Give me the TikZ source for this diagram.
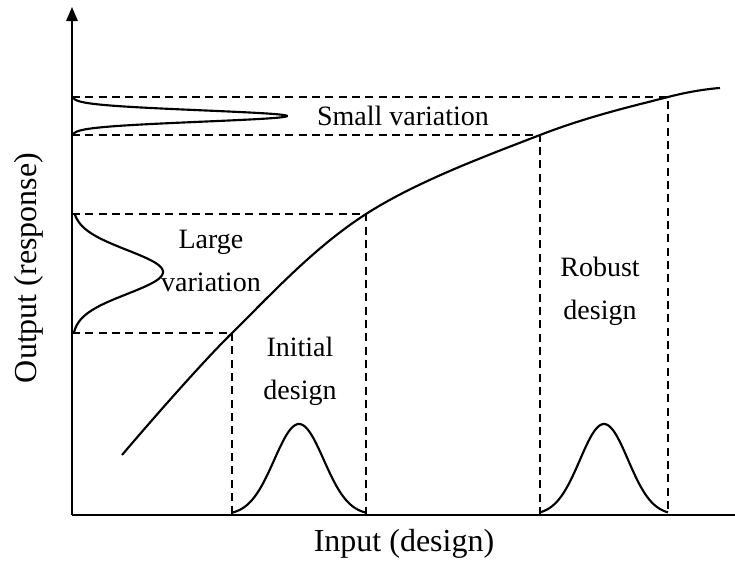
\documentclass[tikz,border=0pt]{standalone}
\usepackage{fontspec}
\setmainfont{Liberation Serif}
\usetikzlibrary{arrows.meta}
\begin{document}
\begin{tikzpicture}
[x=0.75pt,y=-0.75pt,
  axisdecorate/.style={-{Triangle[length=10.5pt,width=8.5pt]},line width=1.6pt},%
  curvedecorate/.style={-,line width=1.6pt},%
  dashdecorate/.style={line width=1.1pt,dash pattern=on 6pt off 4pt},%
  labeldecorate/.style={align=center,inner sep=0pt,font=\fontsize{21}{32}\selectfont},%
  axislabeldecorate/.style={inner sep=0pt,font=\fontsize{24}{28}\selectfont}]
\useasboundingbox (0,0) rectangle (735,562);
%% axes
\coordinate (o) at (72,515);
\coordinate (ytop) at (72,7);
\coordinate (xend) at (749,515);
\draw[axisdecorate] (o) -- (ytop);
\draw[axisdecorate] (o) -- (xend);
%% points on the curve
\foreach \nodename/\x/\y in {c1/232/333, c2/366/214, c3/540/135, c4/668/97} {
  \coordinate (\nodename) at (\x,\y);
}
%% curve
\coordinate (cstart) at (122,455);
\coordinate (cend) at (720,88);
\draw[curvedecorate] plot[smooth,tension=0.6] coordinates {(cstart) (c1) (c2) (c3) (c4) (cend)};
%% dashed projections
\foreach \nodename in {c1, c2, c3, c4} {
  \draw[dashdecorate] (\nodename -| o) -- (\nodename) -- (\nodename |- o);
}
%% distributions
\draw[curvedecorate] plot[domain=232:366,samples=80] (\x,{515-91*exp(-((\x-299)/35)^2)});
\draw[curvedecorate] plot[domain=540:668,samples=80] (\x,{515-91*exp(-((\x-604)/34)^2)});
\draw[curvedecorate] plot[domain=214:333,samples=80] ({72+91*exp(-((\x-272)/31)^2)},\x);
\draw[curvedecorate] plot[domain=97:135,samples=80] ({72+215*exp(-((\x-116)/8)^2)},\x);
%% labels
\node (small) at (403,116) [labeldecorate] {Small variation};
\node (large) at (211,261) [labeldecorate] {Large\\variation};
\node (initial) at (300,371) [labeldecorate] {Initial\\design};
\node (robust) at (600,291) [labeldecorate] {Robust\\design};
\node (xlabel) at (404,544) [axislabeldecorate] {Input (design)};
\node (ylabel) at (29,268) [axislabeldecorate,rotate=90] {Output (response)};
\end{tikzpicture}
\end{document}
